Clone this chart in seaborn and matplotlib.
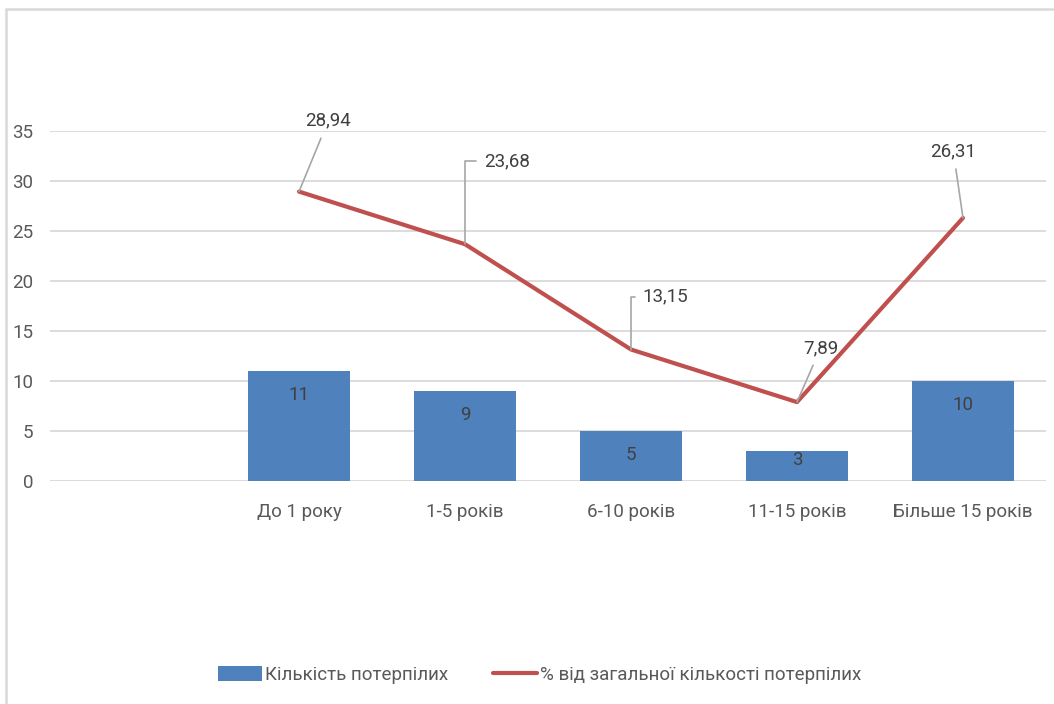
import matplotlib
matplotlib.use("Agg")
import matplotlib.pyplot as plt
from matplotlib.patches import Rectangle
import seaborn as sns
import pandas as pd

# Categories (the first slot of the axis is left empty)
categories = ["", "До 1 року", "1-5 років", "6-10 років", "11-15 років", "Більше 15 років"]
groups = ["До 1 року", "1-5 років", "6-10 років", "11-15 років", "Більше 15 років"]
victims = [11, 9, 5, 3, 10]
percent = [28.94, 23.68, 13.15, 7.89, 26.31]
percent_labels = ["28,94", "23,68", "13,15", "7,89", "26,31"]
y_ticks = [0, 5, 10, 15, 20, 25, 30, 35]

bar_name = "Кількість потерпілих"
line_name = "% від загальної кількості потерпілих"

BLUE = "#4F81BD"
RED = "#C0504D"
GRID = "#D9D9D9"
TICK = "#595959"
LABEL = "#404040"
FS = 13.5

sns.set_theme(style="white")
plt.rcParams["font.family"] = ["Roboto", "DejaVu Sans"]

fig = plt.figure(figsize=(10.54, 7.04), dpi=100)
ax = fig.add_axes([50 / 1054, 1 - 481 / 704, 996 / 1054, 350 / 704])

df = pd.DataFrame({"group": groups, "victims": victims})
sns.barplot(data=df, x="group", y="victims", order=categories, color=BLUE,
            width=0.61, saturation=1, linewidth=0, ax=ax, label=bar_name, zorder=2)

# Line positions follow the categorical slots of the bars
pos = [categories.index(g) for g in groups]
sns.lineplot(x=pos, y=percent, color=RED, linewidth=3.0, ax=ax,
             label=line_name, zorder=3, sort=False)
ax.lines[-1].set_solid_capstyle("round")

# Bar value labels at the inside end; short bars keep the label within the bar
for p, v in zip(pos, victims):
    ax.text(p, max(v - 2.4, 2.1), str(v), ha="center", va="center",
            fontsize=FS, color=LABEL, zorder=4)

# Line value labels with grey leader lines
offsets = [(21, 51, "arc3"), (30, 60, "angle"), (25, 38, "angle"),
           (17, 39, "arc3"), (-7, 48, "arc3")]
for p, v, txt, (dx, dy, kind) in zip(pos, percent, percent_labels, offsets):
    style = ("angle,angleA=0,angleB=90,rad=0" if kind == "angle" else "arc3")
    ax.annotate(txt, (p, v), xytext=(dx, dy), textcoords="offset points",
                ha="center", va="center", fontsize=FS, color=LABEL,
                arrowprops=dict(arrowstyle="-", color="#A6A6A6", lw=1.2,
                                connectionstyle=style,
                                shrinkA=3 if kind == "angle" else 4, shrinkB=0),
                annotation_clip=False, zorder=4)

ax.set_ylim(0, 35)
ax.set_xlim(-0.5, len(categories) - 0.5)
ax.set_yticks(y_ticks)
ax.yaxis.grid(True, color=GRID, linewidth=1.3, zorder=0)
ax.set_axisbelow(True)
ax.tick_params(axis="y", length=0, pad=12, labelsize=FS, labelcolor=TICK)
ax.tick_params(axis="x", length=0, pad=16, labelsize=FS, labelcolor=TICK)
ax.set_xlabel("")
ax.set_ylabel("")
for s in ax.spines.values():
    s.set_visible(False)

handles, labels = ax.get_legend_handles_labels()
order = [labels.index(bar_name), labels.index(line_name)]
ax.get_legend().remove()
fig.legend([handles[i] for i in order], [labels[i] for i in order],
           loc="center", bbox_to_anchor=(540 / 1054, 1 - 675 / 704),
           ncol=2, frameon=False, fontsize=FS, labelcolor=TICK,
           handlelength=2.3, handleheight=0.9, handletextpad=0.2, columnspacing=2.4)

# Light chart frame
fig.patches.append(Rectangle((6 / 1054, -0.1), 1.2, 1.1 - 9 / 704,
                             transform=fig.transFigure, fill=False,
                             edgecolor=GRID, linewidth=1.8, zorder=0))

fig.savefig("out.png", dpi=100)
